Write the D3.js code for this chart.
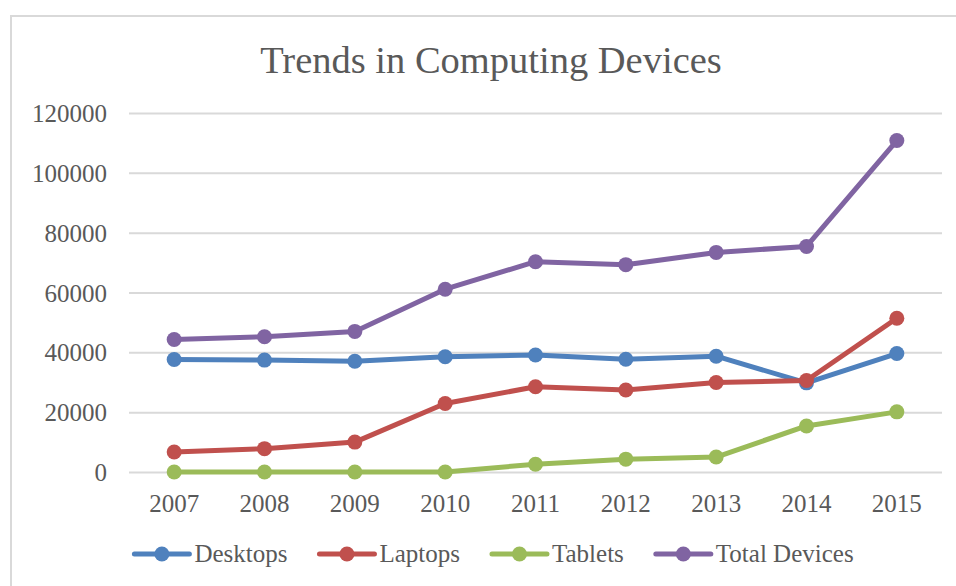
<!DOCTYPE html>
<html>
<head>
<meta charset="utf-8">
<script src="https://cdn.jsdelivr.net/npm/d3@7"></script>
<style>
  html, body { margin: 0; padding: 0; background: #fff; }
  svg { display: block; }
  text { font-family: "Liberation Serif", "DejaVu Serif", serif; fill: #595959; }
</style>
</head>
<body>
<svg id="chart" width="956" height="586"></svg>
<script>
const years = ["2007","2008","2009","2010","2011","2012","2013","2014","2015"];
const desktops = [37600, 37400, 37000, 38500, 39100, 37700, 38700, 29800, 39600];
const laptops  = [6700, 7800, 10000, 22900, 28500, 27400, 29900, 30600, 51400];
const tablets  = [0, 0, 0, 0, 2600, 4300, 5000, 15400, 20100];
const totals   = [44300, 45200, 47000, 61100, 70300, 69300, 73400, 75400, 110800];
const yTicks   = [0, 20000, 40000, 60000, 80000, 100000, 120000];
const seriesNames  = ["Desktops", "Laptops", "Tablets", "Total Devices"];
const seriesColors = ["#4F81BD", "#C0504D", "#9BBB59", "#8064A2"];
const title = "Trends in Computing Devices";

const series = [desktops, laptops, tablets, totals].map((vals, i) => ({
  name: seriesNames[i], color: seriesColors[i], values: vals
}));

const svg = d3.select("#chart");

// outer chart border
svg.append("rect")
  .attr("x", 11).attr("y", 16).attr("width", 980).attr("height", 600)
  .attr("fill", "#fff").attr("stroke", "#d9d9d9").attr("stroke-width", 2);

const plot = { left: 129, right: 942, top: 113, bottom: 472 };

const x = d3.scaleBand().domain(years).range([plot.left, plot.right]);
const y = d3.scaleLinear().domain([0, 120000]).range([plot.bottom, plot.top]);

// gridlines + y labels
const yAxis = d3.axisLeft(y).tickValues(yTicks).tickSize(-(plot.right - plot.left)).tickPadding(22).tickFormat(d3.format("d"));
const gy = svg.append("g").attr("transform", `translate(${plot.left},0)`).call(yAxis);
gy.select(".domain").remove();
gy.selectAll(".tick line").attr("stroke", "#d9d9d9").attr("stroke-width", 2);
gy.selectAll(".tick text").attr("font-size", 25).attr("fill", "#595959")
  .attr("font-family", "Liberation Serif").attr("dy", "0.34em");

// x axis labels
const xAxis = d3.axisBottom(x).tickSize(0).tickPadding(22);
const gx = svg.append("g").attr("transform", `translate(0,${plot.bottom})`).call(xAxis);
gx.select(".domain").remove();
gx.selectAll(".tick text").attr("font-size", 25).attr("fill", "#595959")
  .attr("font-family", "Liberation Serif");

// lines
const line = d3.line().x((d, i) => x(years[i]) + x.bandwidth() / 2).y(d => y(d));
series.forEach(s => {
  svg.append("path").datum(s.values)
    .attr("d", line).attr("fill", "none")
    .attr("stroke", s.color).attr("stroke-width", 5)
    .attr("stroke-linejoin", "round").attr("stroke-linecap", "round");
  svg.append("g").selectAll("circle").data(s.values).join("circle")
    .attr("cx", (d, i) => x(years[i]) + x.bandwidth() / 2)
    .attr("cy", d => y(d)).attr("r", 7.5).attr("fill", s.color);
});

// title
svg.append("text").attr("x", 491).attr("y", 73).attr("text-anchor", "middle")
  .attr("font-size", 38.5).attr("fill", "#595959").text(title);

// legend
const legend = svg.append("g");
const lineLen = 55, gapText = 5, gapItem = 32, ly = 554;
const items = legend.selectAll("g").data(series).join("g");
items.append("line").attr("x1", 0).attr("x2", lineLen).attr("y1", 0).attr("y2", 0)
  .attr("stroke", d => d.color).attr("stroke-width", 5).attr("stroke-linecap", "round");
items.append("circle").attr("cx", lineLen / 2).attr("cy", 0).attr("r", 7.5).attr("fill", d => d.color);
items.append("text").attr("x", lineLen + gapText).attr("y", 8)
  .attr("font-size", 25).attr("fill", "#595959").text(d => d.name);
let cx = 0;
const widths = [];
items.each(function() {
  widths.push(this.getBBox().width);
});
items.attr("transform", (d, i) => {
  const t = `translate(${cx},${ly})`;
  cx += widths[i] + gapItem;
  return t;
});
const total = cx - gapItem;
legend.attr("transform", `translate(${494 - total / 2},0)`);
</script>
</body>
</html>
